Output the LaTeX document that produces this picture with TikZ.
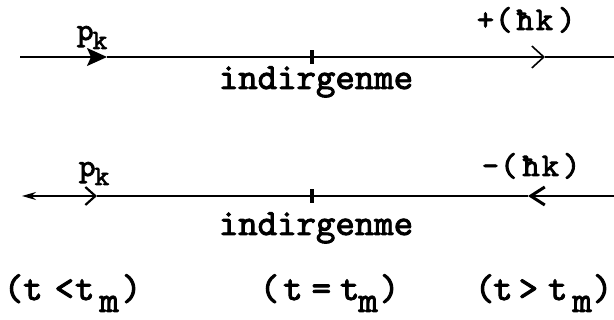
\documentclass[tikz,border=0pt]{standalone}
\usepackage{fontspec}
\newfontfamily\twfont{lmmono10-regular.otf}[FakeBold=2.5]
\usetikzlibrary{arrows.meta}
\begin{document}
\begin{tikzpicture}[x=1pt,y=-1pt,line width=1.6pt,
  txt/.style={inner sep=0pt,anchor=base west},
  big/.style={font=\twfont\fontsize{37}{40}\selectfont},
  mid/.style={font=\twfont\fontsize{33}{36}\selectfont},
  sml/.style={font=\twfont\fontsize{32}{34}\selectfont},
  tickmark/.style={fill=black,inner sep=0pt,minimum width=3.5pt,minimum height=14pt}]
\useasboundingbox (0,0) rectangle (614,320);
% line 1
\coordinate (s1) at (20,57);
\coordinate (a1) at (107,57);
\coordinate (a2) at (545,57);
\coordinate (e1) at (614,57);
\draw[-{Stealth[length=20pt,width=18pt,inset=4pt]}] (s1) -- (a1);
\draw[-{Straight Barb[length=12pt,width=22pt]}] (a1) -- (a2);
\draw (a2) -- (e1);
\node[tickmark] (t1) at (312,57) {};
% line 2
\coordinate (s2) at (22,196);
\coordinate (a3) at (97,196);
\coordinate (a4) at (528,196);
\coordinate (e2) at (614,196);
\draw[{Stealth[length=14pt,width=8pt]}-{Straight Barb[length=10pt,width=18pt,line width=2.2pt]}] (s2) -- (a3);
\draw (a3) -- (a4);
\draw[{Straight Barb[length=14pt,width=18pt,line width=3pt]}-] (a4) -- (e2);
\node[tickmark] (t2) at (312,196) {};
% labels line 1
\node[txt,sml] (pk1) at (76,40) {p\kern-1pt\raisebox{-9pt}{\fontsize{28}{28}\selectfont k}};
\node[txt,mid] (hk1) at (476,30) {+\kern1pt(\kern4pt ħ\kern2pt k\kern5pt)};
\node[txt,big,anchor=base] (ind1) at (316,89) {indirgenme};
% labels line 2
\node[txt,sml] (pk2) at (78,176) {p\kern-1pt\raisebox{-9pt}{\fontsize{28}{28}\selectfont k}};
\node[txt,mid] (hk2) at (481,176) {-\kern1pt(\kern5pt ħ\kern2pt k\kern4pt)};
\node[txt,big,anchor=base] (ind2) at (316,235) {indirgenme};
% time labels
\node[txt,big] (c1) at (3,300) {(t\kern12pt<\kern1pt t\kern5pt\raisebox{-12pt}{m}\kern3pt)};
\node[txt,big] (c2) at (259,300) {(\kern4pt t\kern9pt=\kern9pt t\kern-1pt\raisebox{-12pt}{m}\kern2pt)};
\node[txt,big] (c3) at (474,300) {(\kern-1pt t\kern6pt>\kern10pt t\kern5pt\raisebox{-12pt}{m}\kern1pt)};
\end{tikzpicture}
\end{document}
